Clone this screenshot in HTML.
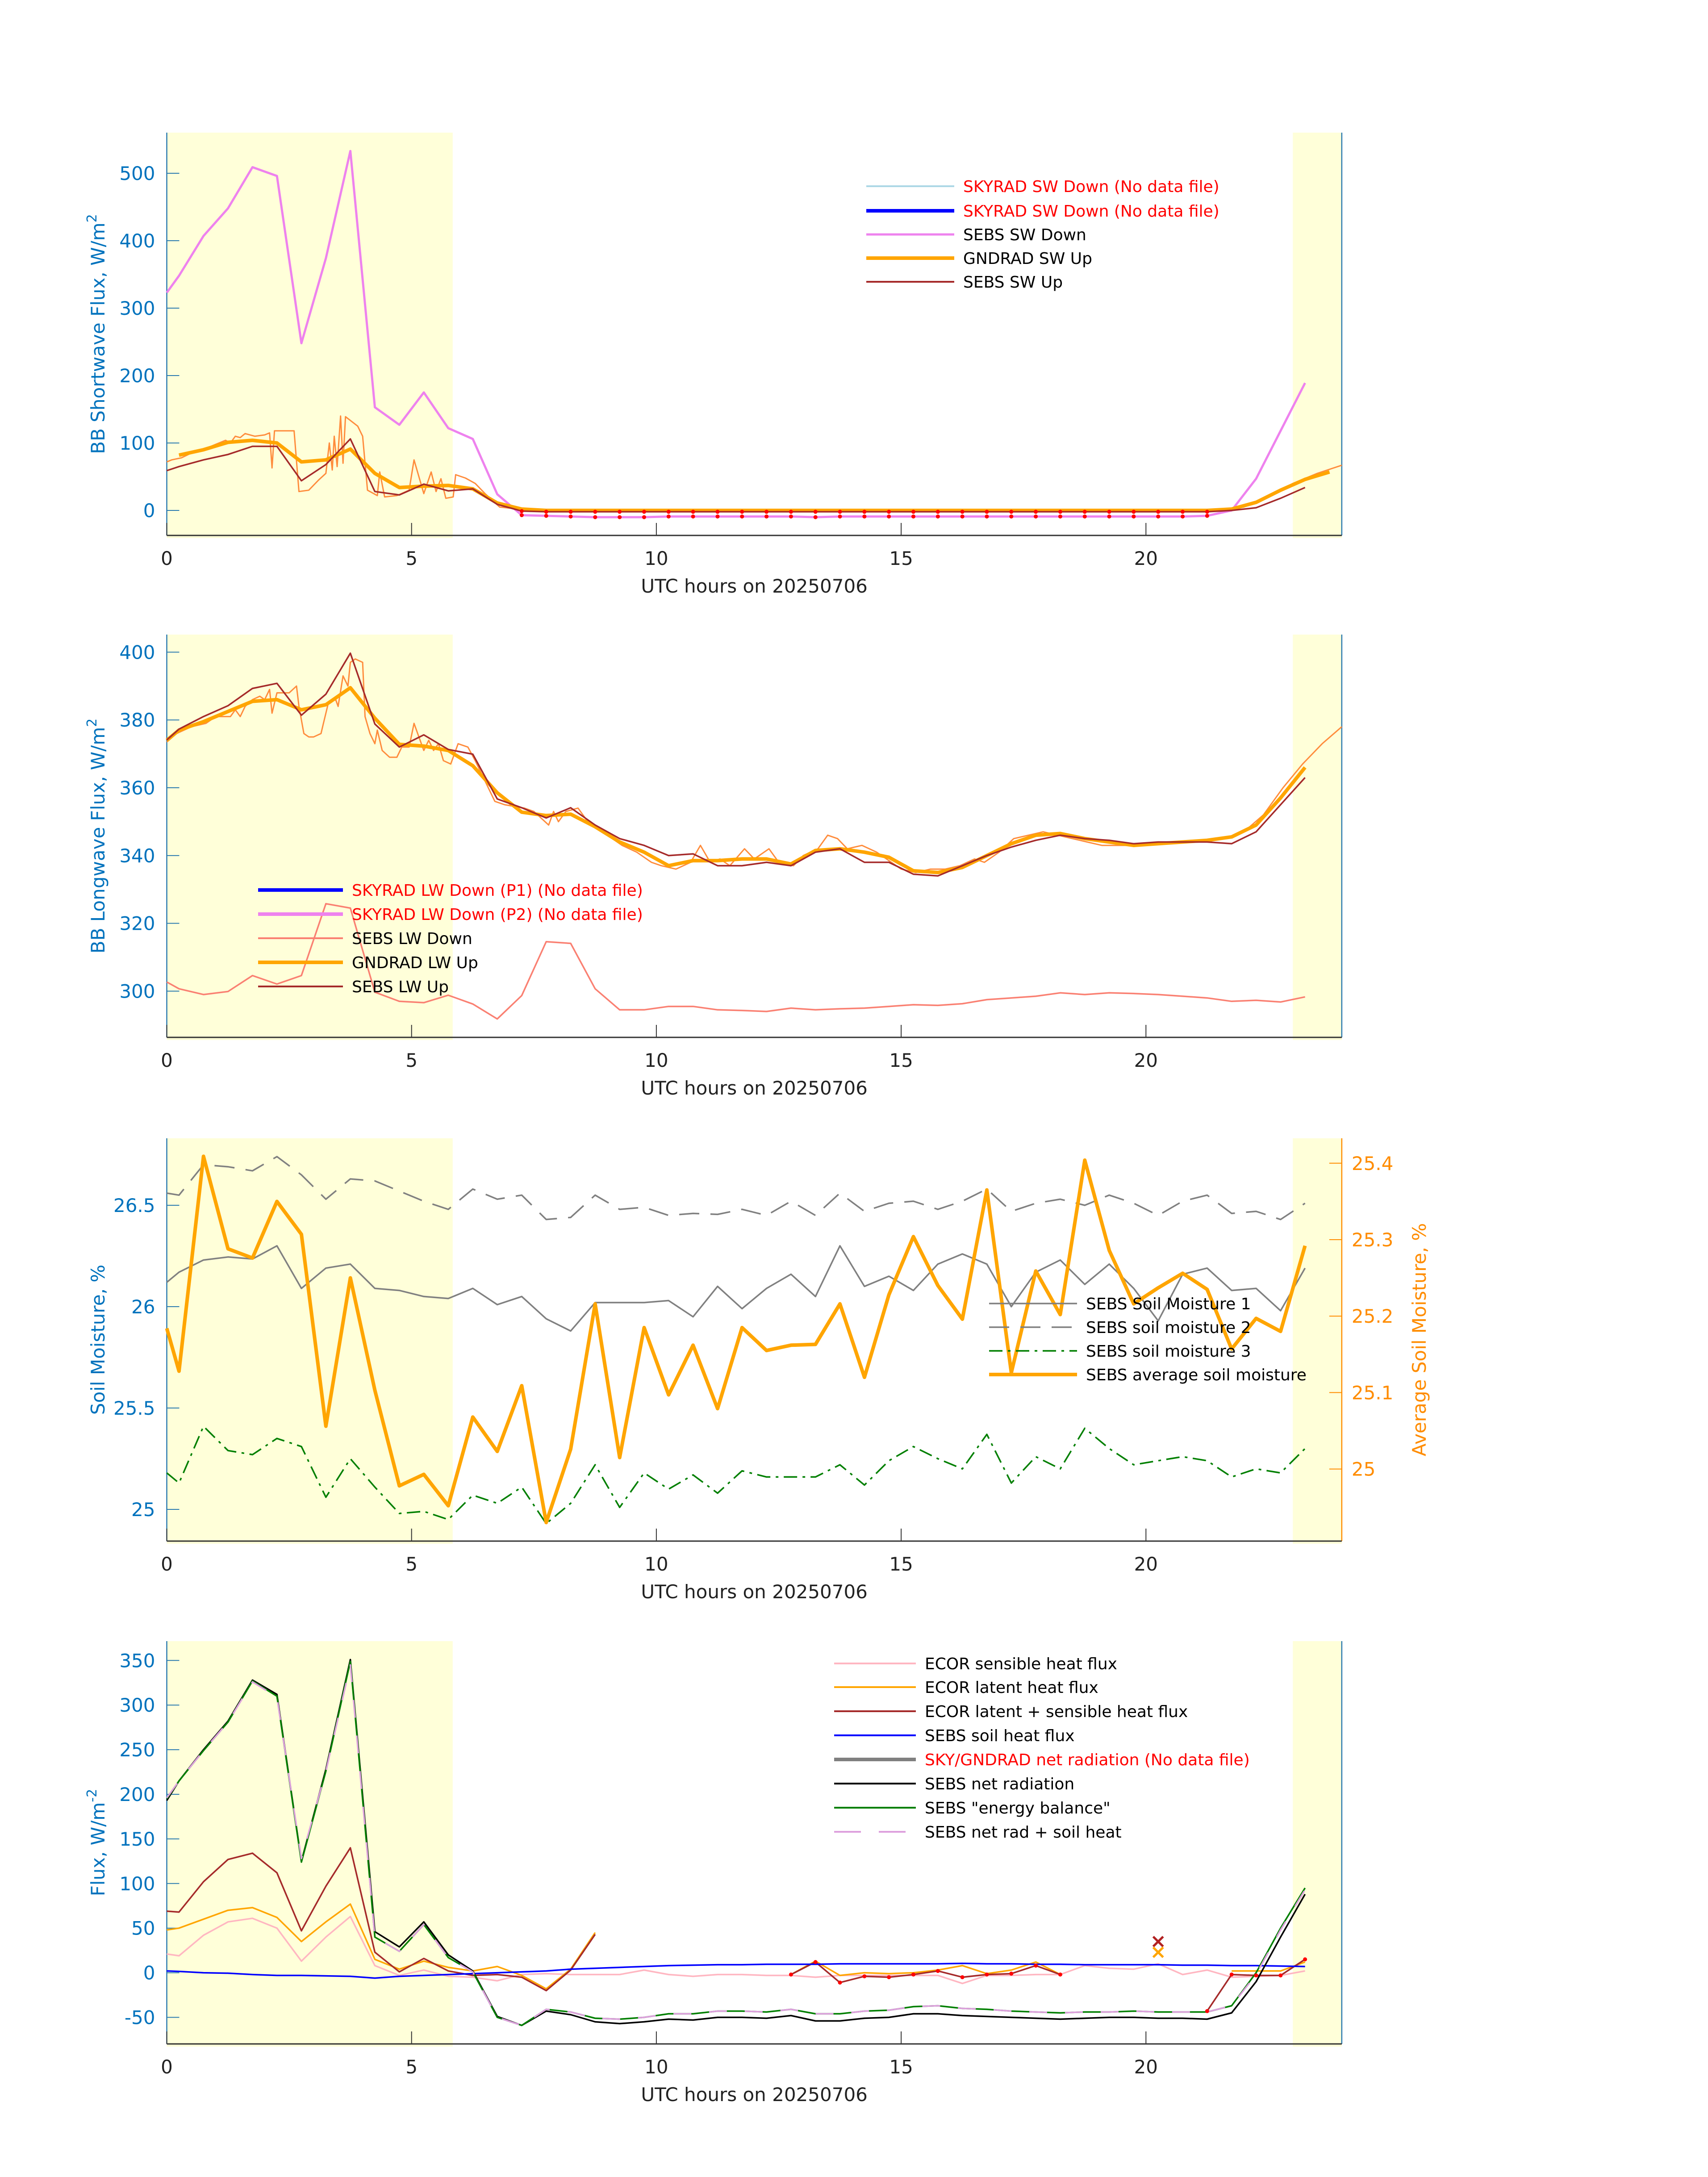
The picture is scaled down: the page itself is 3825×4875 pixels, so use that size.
<!DOCTYPE html>
<html><head><meta charset="utf-8"><style>
html,body{margin:0;padding:0;background:#fff;}
svg{display:block;font-family:"DejaVu Sans","Liberation Sans",sans-serif;}
</style></head><body>
<svg id="chart" xmlns="http://www.w3.org/2000/svg" width="3825" height="4875" viewBox="0 0 3825 4875"></svg>
<script>
// ---------- data ----------
const tHalf = [0,0.25,0.75,1.25,1.75,2.25,2.75,3.25,3.75,4.25,4.75,5.25,5.75,6.25,6.75,7.25,7.75,8.25,8.75,9.25,9.75,10.25,10.75,11.25,11.75,12.25,12.75,13.25,13.75,14.25,14.75,15.25,15.75,16.25,16.75,17.25,17.75,18.25,18.75,19.25,19.75,20.25,20.75,21.25,21.75,22.25,22.75,23.25];
const xTicks = [0,5,10,15,20];
const xTickLabels = ["0","5","10","15","20"];
const shadeSpans = [[0,5.84],[23.0,24]];

// Panel 1
const swDown = [323,348,407,448,509,496,248,374,533,153,127,175,122,106,24,-7,-8,-9,-10,-10,-10,-9,-9,-9,-9,-9,-9,-10,-9,-9,-9,-9,-9,-9,-9,-9,-9,-9,-9,-9,-9,-9,-9,-8,0,47,118,189];
const swUpSebs = [59,65,75,83,95,95,44,68,106,28,23,39,29,32,9,-1,-2,-2,-2,-2,-2,-2,-2,-2,-2,-2,-2,-2,-2,-2,-2,-2,-2,-2,-2,-2,-2,-2,-2,-2,-2,-2,-2,-2,0,4,18,34];
const tGnd = [0.25,0.75,1.25,1.75,2.25,2.75,3.25,3.75,4.25,4.75,5.25,5.75,6.25,6.75,7.25,7.75,10,15,20,21.25,21.75,22.25,22.75,23.25,23.75];
const swUpGnd = [82,90,101,104,100,72,75,91,55,34,36,37,32,11,2,0,0,0,0,0,2,12,30,46,57];
const tSwFine = [0,0.1,0.3,0.5,0.8,1.0,1.2,1.3,1.4,1.5,1.6,1.8,2.0,2.1,2.15,2.2,2.3,2.6,2.7,2.9,3.1,3.25,3.32,3.38,3.42,3.48,3.55,3.6,3.65,3.9,4.0,4.1,4.3,4.35,4.45,4.7,4.95,5.05,5.25,5.4,5.5,5.6,5.7,5.85,5.9,6.1,6.3,6.5,6.8,7.2,7.5,21.5,22,22.5,23,23.5,24];
const swUpFine = [72,75,78,85,92,98,104,100,110,108,114,110,112,115,63,118,118,118,28,30,45,55,100,60,110,65,140,70,139,125,110,30,22,57,20,22,30,75,25,57,28,47,18,20,53,48,40,25,5,2,0,0,5,20,40,55,67];

// Panel 2
const lwUpSebs = [374.1,377.3,381,384.2,389.3,390.8,381.4,387.6,399.7,378.8,372,375.6,371.3,369.9,356.7,354.1,351.1,354.1,349,345,343,340,340.5,337,337,338,337,341,342,338,338,334.5,334,337,340,342.5,344.5,346,345,344.5,343.5,344,344,344,343.5,347,355,363];
const lwUpGnd = [374,377,379.5,382.5,385.5,386,383,384.5,389.5,380.5,372.8,372.3,371,366.5,358.5,352.8,351.8,352.2,348.5,344,341,337,338.5,338.5,339,339,337.5,341.5,342,341,339.5,335.5,335,336.5,340,343.5,346,346.5,345,344,343,343.5,344,344.5,345.5,349,357,366];
const lwDownSebs = [302.7,300.7,299,299.9,304.6,302.1,304.6,325.8,324.5,299.7,297,296.6,298.8,296.2,291.8,298.7,314.6,314.1,300.7,294.5,294.5,295.5,295.5,294.5,294.3,294,295,294.5,294.8,295,295.5,296,295.8,296.3,297.5,298,298.5,299.5,299,299.5,299.3,299,298.5,298,297,297.3,296.8,298.3];
const tLwFine = [0,0.2,0.5,0.8,1.0,1.3,1.4,1.5,1.6,1.75,1.9,2.0,2.1,2.15,2.25,2.35,2.5,2.65,2.7,2.8,2.9,3.0,3.15,3.2,3.3,3.45,3.5,3.6,3.7,3.75,3.85,4.0,4.05,4.15,4.25,4.3,4.4,4.55,4.7,4.8,4.95,5.05,5.15,5.25,5.35,5.45,5.55,5.65,5.8,5.95,6.15,6.3,6.5,6.7,6.9,7.1,7.3,7.5,7.8,7.9,8.0,8.15,8.4,8.6,9.0,9.3,9.6,9.9,10.1,10.4,10.7,10.9,11.1,11.3,11.5,11.8,12.0,12.3,12.5,12.8,13.0,13.3,13.5,13.7,13.9,14.2,14.5,14.8,15.0,15.3,15.6,15.9,16.2,16.5,16.7,17.0,17.3,17.6,17.9,18.2,18.5,18.8,19.1,19.4,19.7,20.0,20.4,20.8,21.2,21.6,22.0,22.4,22.8,23.2,23.6,24];
const lwFine = [373.5,376,378,379,381,381,383,381,384,386,387,386,389,382,388,388,388,390,384,376,375,375,376,379,385,386,384,393,390,397,398,397,381,376,373,377,371,369,369,372,372,379,375,371,374,371,373,368,367,373,372,368,362,356,355,354.5,354,353,349,353,350,353,354,350,346,343,341,338,337,336,338,343,338,339,337,342,339,342,338,337,340,342,346,345,342,343,341,338,336,335,336,336,337,339,338,341,345,346,347,346,345,344,343,343,343,343.5,344,344,344,345,347,352,360,367,373,378];

// Panel 3
const sm1 = [26.12,26.17,26.23,26.245,26.235,26.30,26.09,26.19,26.21,26.09,26.08,26.05,26.04,26.09,26.01,26.05,25.94,25.88,26.02,26.02,26.02,26.03,25.95,26.10,25.99,26.09,26.16,26.05,26.30,26.10,26.15,26.08,26.21,26.26,26.21,26.00,26.17,26.23,26.11,26.21,26.09,25.93,26.16,26.19,26.08,26.09,25.98,26.19];
const sm2 = [26.56,26.55,26.70,26.69,26.67,26.74,26.65,26.53,26.63,26.62,26.57,26.52,26.48,26.58,26.53,26.55,26.43,26.44,26.55,26.48,26.49,26.45,26.46,26.455,26.48,26.45,26.52,26.45,26.56,26.47,26.51,26.52,26.48,26.52,26.58,26.47,26.51,26.53,26.50,26.55,26.51,26.45,26.52,26.55,26.46,26.47,26.43,26.51];
const sm3 = [25.18,25.13,25.41,25.29,25.27,25.35,25.31,25.06,25.25,25.11,24.98,24.99,24.95,25.07,25.03,25.11,24.93,25.03,25.22,25.01,25.18,25.10,25.17,25.08,25.19,25.16,25.16,25.16,25.22,25.12,25.24,25.31,25.25,25.20,25.37,25.13,25.26,25.20,25.40,25.30,25.22,25.24,25.26,25.24,25.16,25.20,25.18,25.30];
const smAvg = [25.184,25.128,25.409,25.288,25.276,25.35,25.307,25.056,25.25,25.103,24.978,24.993,24.952,25.068,25.023,25.109,24.93,25.026,25.216,25.015,25.185,25.097,25.162,25.079,25.185,25.155,25.162,25.163,25.216,25.12,25.228,25.304,25.24,25.196,25.365,25.126,25.259,25.202,25.404,25.286,25.216,25.237,25.256,25.235,25.157,25.197,25.18,25.292];

// Panel 4
const netRad = [193,215,250,282,328,312,125,228,351,46,29,57,20,2,-49,-59,-43,-47,-55,-57,-55,-52,-53,-50,-50,-51,-48,-54,-54,-51,-50,-46,-46,-48,-49,-50,-51,-52,-51,-50,-50,-51,-51,-52,-45,-10,40,88];
const energyBal = [195,215,249,281,327,310,124,226,349,40,24,54,17,1,-50,-59,-41,-44,-51,-52,-50,-46,-46,-43,-43,-44,-41,-46,-46,-43,-42,-38,-37,-40,-41,-43,-44,-45,-44,-44,-43,-44,-44,-44,-37,0,50,95];
const netPlusSoil = [196,215,249,281,326,309,128,226,345,40,24,54,17,1,-50,-59,-41,-44,-51,-52,-50,-46,-46,-43,-43,-44,-41,-46,-46,-43,-42,-38,-37,-40,-41,-43,-44,-45,-44,-44,-43,-44,-44,-44,-37,-2,48,93];
const soilHeat = [2,1.5,0,-0.5,-2,-3,-3,-3.5,-4,-6,-4,-3,-2,-1,0,1,2,4,5,6,7,8,8.5,9,9,9.5,9.5,9.5,10,10,10,10,10,10.5,10,10,9.5,9.5,9,9,9,9,8.5,8.5,8,8,7.5,7];
const sensible = [21,19,42,57,61,50,13,40,63,8,-3,3,-4,-5,-9,-2,-1,-2,-2,-2,3,-2,-4,-2,-2,-3,-3,-5,-3,-3,-3,-3,-3,-12,-3,-3,-2,-2,8,5,4,10,-2,3,-5,-4,-3,2];
const latent = [48,50,60,70,73,62,35,57,77,15,4,13,6,2,7,-3,-18,4,45,null,null,null,null,null,null,null,-2,13,-3,0,-1,0,3,8,-1,3,12,-2,null,null,null,null,null,null,2,2,2,12];
const latSens = [69,68,102,127,134,112,47,97,140,23,1,16,2,-3,-2,-5,-20,3,43,null,null,null,null,null,null,null,-2,12,-11,-4,-5,-2,2,-5,-2,-1,8,-2,null,null,null,null,null,-43,-2,-3,-3,15];

// ---------- drawing helpers ----------
const NS = "http://www.w3.org/2000/svg";
const svg = document.getElementById("chart");
const X0 = 373.5, PXH = 109.64, X1 = X0 + 24*PXH;
const xs = h => X0 + h*PXH;
const PANEL_H = 902;
const tops = [297, 1421, 2549, 3675];
const ys1 = v => 1143 - v*1.51;
const ys2 = v => 1460.4 + (400 - v)*7.591;
const ys3 = v => 2699 + (26.5 - v)*454;
const ys3r = v => 2604.8 + (25.4 - v)*1712;
const ys4 = v => 4417.6 - v*1.998;
const FONT = 42;

function el(tag, attrs, parent) {
  const e = document.createElementNS(NS, tag);
  for (const k in attrs) e.setAttribute(k, attrs[k]);
  (parent || svg).appendChild(e);
  return e;
}
function pathD(tArr, vArr, ys) {
  let d = "", pen = false;
  for (let i = 0; i < tArr.length; i++) {
    const v = vArr[i];
    if (v === null || v === undefined) { pen = false; continue; }
    d += (pen ? "L" : "M") + xs(tArr[i]).toFixed(1) + "," + ys(v).toFixed(1);
    pen = true;
  }
  return d;
}
function series(tArr, vArr, ys, color, width, name, dash) {
  const p = el("path", {d: pathD(tArr, vArr, ys), fill: "none", stroke: color, "stroke-width": width, "stroke-linejoin": "round"});
  if (dash) p.setAttribute("stroke-dasharray", dash);
  
  
  return p;
}
function dots(tArr, vArr, ys, from, to, name) {
  const g = el("g", {fill: "#ff0000"});
  
  
  for (let i = 0; i < tArr.length; i++) {
    if (tArr[i] < from || tArr[i] > to || vArr[i] === null) continue;
    el("circle", {cx: xs(tArr[i]), cy: ys(vArr[i]), r: 4.5}, g);
  }
}
function text(x, y, str, opts, name) {
  const t = el("text", Object.assign({x: x, y: y, "font-size": FONT, fill: "#222"}, opts || {}));
  t.textContent = str;
  
  
  return t;
}
function panelFrame(idx, yTicks, yLabels, ys, yTitle, titleSup) {
  const top = tops[idx], bot = top + PANEL_H;
  const g = el("g", {});
  
  
  for (const s of shadeSpans) {
    const r = el("rect", {x: xs(s[0]), y: top, width: xs(s[1]) - xs(s[0]), height: PANEL_H + 6, fill: "#ffffd9"}, g);
    
    
  }
  const la = el("line", {x1: X0, y1: top, x2: X0, y2: bot, stroke: "#2a7ab0", "stroke-width": 2.5}, g);
  
  
  const ra = el("line", {x1: X1, y1: top, x2: X1, y2: bot, stroke: idx === 2 ? "#ff8c00" : "#2a7ab0", "stroke-width": 2.5}, g);
  
  
  const ba = el("line", {x1: X0, y1: bot, x2: X1, y2: bot, stroke: "#333", "stroke-width": 3}, g);
  
  
  for (let i = 0; i < xTicks.length; i++) {
    const x = xs(xTicks[i]);
    const tk = el("line", {x1: x, y1: bot, x2: x, y2: bot - 28, stroke: "#333", "stroke-width": 2}, g);
    
    
    text(x, bot + 66, xTickLabels[i], {"text-anchor": "middle"}, 'x-tick-label');
  }
  text((X0 + X1)/2, bot + 128, "UTC hours on 20250706", {"text-anchor": "middle"}, 'x-axis-title');
  for (let i = 0; i < yTicks.length; i++) {
    const y = ys(yTicks[i]);
    const tk = el("line", {x1: X0, y1: y, x2: X0 + 28, y2: y, stroke: "#2a7ab0", "stroke-width": 2}, g);
    
    
    text(X0 - 26, y + 15, yLabels[i], {"text-anchor": "end", fill: "#0072bd"}, 'y-tick-label');
  }
  const cy = top + PANEL_H/2;
  const t = text(0, 0, yTitle, {"text-anchor": "middle", fill: "#0072bd", transform: "translate(234," + cy + ") rotate(-90)"}, 'y-axis-title');
  if (titleSup) {
    const ts = el("tspan", {dy: -18, "font-size": 30}, t);
    ts.textContent = titleSup;
  }
}
function legend(x, rows, name) {
  const g = el("g", {});
  
  
  for (const r of rows) {
    const ln = el("line", {x1: x, y1: r.y, x2: x + r.len, y2: r.y, stroke: r.color, "stroke-width": r.w}, g);
    if (r.dash) ln.setAttribute("stroke-dasharray", r.dash);
    
    
    const t = el("text", {x: x + r.len + 20, y: r.y + 13, "font-size": 36, fill: r.red ? "#ff0000" : "#000"}, g);
    t.textContent = r.label;
    
    
  }
}

// ---------- Panel 1 ----------
panelFrame(0, [0,100,200,300,400,500], ["0","100","200","300","400","500"], ys1, "BB Shortwave Flux, W/m", "2");
series(tSwFine, swUpFine, ys1, "#ff8c3c", 3, "gndrad-sw-up-1min");
series(tHalf, swDown, ys1, "#ee82ee", 5, "sebs-sw-down-line");
series(tGnd, swUpGnd, ys1, "#ffa500", 8, "gndrad-sw-up-line");
series(tHalf, swUpSebs, ys1, "#a52a2a", 3.5, "sebs-sw-up-line");
dots(tHalf, swDown, ys1, 7, 21.3, "sw-down-qc-dots");
dots(tHalf, swUpSebs, ys1, 7, 21.3, "sw-up-qc-dots");
legend(1940, [
  {y: 417, color: "#add8e6", w: 4, len: 197, label: "SKYRAD SW Down (No data file)", red: true},
  {y: 472, color: "#0000ff", w: 8, len: 197, label: "SKYRAD SW Down (No data file)", red: true},
  {y: 525, color: "#ee82ee", w: 5, len: 197, label: "SEBS SW Down"},
  {y: 578, color: "#ffa500", w: 8, len: 197, label: "GNDRAD SW Up"},
  {y: 631, color: "#a52a2a", w: 4, len: 197, label: "SEBS SW Up"}
], "legend-panel-1");

// ---------- Panel 2 ----------
panelFrame(1, [300,320,340,360,380,400], ["300","320","340","360","380","400"], ys2, "BB Longwave Flux, W/m", "2");
series(tHalf, lwDownSebs, ys2, "#fa8072", 3.5, "sebs-lw-down-line");
series(tLwFine, lwFine, ys2, "#ff8c3c", 3, "gndrad-lw-up-1min");
series(tHalf, lwUpGnd, ys2, "#ffa500", 8, "gndrad-lw-up-line");
series(tHalf, lwUpSebs, ys2, "#a52a2a", 3.5, "sebs-lw-up-line");
legend(578, [
  {y: 1993, color: "#0000ff", w: 8, len: 190, label: "SKYRAD LW Down (P1) (No data file)", red: true},
  {y: 2047, color: "#ee82ee", w: 8, len: 190, label: "SKYRAD LW Down (P2) (No data file)", red: true},
  {y: 2101, color: "#fa8072", w: 4, len: 190, label: "SEBS LW Down"},
  {y: 2155, color: "#ffa500", w: 8, len: 190, label: "GNDRAD LW Up"},
  {y: 2209, color: "#a52a2a", w: 4, len: 190, label: "SEBS LW Up"}
], "legend-panel-2");

// ---------- Panel 3 ----------
panelFrame(2, [25,25.5,26,26.5], ["25","25.5","26","26.5"], ys3, "Soil Moisture, %");
const rTicks = [25,25.1,25.2,25.3,25.4];
const rLabels = ["25","25.1","25.2","25.3","25.4"];
for (let i = 0; i < rTicks.length; i++) {
  const y = ys3r(rTicks[i]);
  const tk = el("line", {x1: X1, y1: y, x2: X1 - 28, y2: y, stroke: "#ff8c00", "stroke-width": 2});
  
  
  text(X1 + 22, y + 15, rLabels[i], {fill: "#ff8c00"}, 'right-y-tick-label');
}
text(0, 0, "Average Soil Moisture, %", {"text-anchor": "middle", fill: "#ff8c00", transform: "translate(3193," + (tops[2] + PANEL_H/2) + ") rotate(-90)"}, 'right-y-axis-title');
series(tHalf, sm1, ys3, "#808080", 3.5, "soil-moisture-1-line");
series(tHalf, sm2, ys3, "#808080", 3.5, "soil-moisture-2-line", "45,25");
series(tHalf, sm3, ys3, "#007f00", 3.5, "soil-moisture-3-line", "30,12,6,12");
series(tHalf, smAvg, ys3r, "#ffa500", 8, "average-soil-moisture-line");
legend(2215, [
  {y: 2919, color: "#808080", w: 3.5, len: 197, label: "SEBS Soil Moisture 1"},
  {y: 2972, color: "#808080", w: 3.5, len: 197, label: "SEBS soil moisture 2", dash: "45,25"},
  {y: 3025, color: "#007f00", w: 3.5, len: 197, label: "SEBS soil moisture 3", dash: "30,12,6,12"},
  {y: 3078, color: "#ffa500", w: 8, len: 197, label: "SEBS average soil moisture"}
], "legend-panel-3");

// ---------- Panel 4 ----------
panelFrame(3, [-50,0,50,100,150,200,250,300,350], ["-50","0","50","100","150","200","250","300","350"], ys4, "Flux, W/m", "-2");
series(tHalf, sensible, ys4, "#ffb6c1", 3.5, "ecor-sensible-line");
series(tHalf, latent, ys4, "#ffa500", 3.5, "ecor-latent-line");
series(tHalf, latSens, ys4, "#a52a2a", 3.5, "ecor-latent-plus-sensible-line");
series(tHalf, soilHeat, ys4, "#0000ff", 3.5, "sebs-soil-heat-line");
series(tHalf, netRad, ys4, "#000000", 3.5, "sebs-net-radiation-line");
series(tHalf, energyBal, ys4, "#007f00", 3.5, "sebs-energy-balance-line");
series(tHalf, netPlusSoil, ys4, "#dda0dd", 3.5, "sebs-net-rad-plus-soil-line", "40,40");
dots(tHalf, latSens, ys4, 12.5, 23.5, "ecor-qc-dots");
const cx = xs(20.25);
text(cx, ys4(35) + 14, "×", {"text-anchor": "middle", fill: "#b22222", "font-size": 44, "font-weight": "bold"}, 'ecor-sum-marker');
text(cx, ys4(23) + 14, "×", {"text-anchor": "middle", fill: "#ffa500", "font-size": 44, "font-weight": "bold"}, 'ecor-latent-marker');
legend(1868, [
  {y: 3725, color: "#ffb6c1", w: 4, len: 183, label: "ECOR sensible heat flux"},
  {y: 3778, color: "#ffa500", w: 4, len: 183, label: "ECOR latent heat flux"},
  {y: 3832, color: "#a52a2a", w: 4, len: 183, label: "ECOR latent + sensible heat flux"},
  {y: 3886, color: "#0000ff", w: 4, len: 183, label: "SEBS soil heat flux"},
  {y: 3940, color: "#808080", w: 8, len: 183, label: "SKY/GNDRAD net radiation (No data file)", red: true},
  {y: 3994, color: "#000000", w: 4, len: 183, label: "SEBS net radiation"},
  {y: 4048, color: "#007f00", w: 4, len: 183, label: "SEBS \"energy balance\""},
  {y: 4102, color: "#dda0dd", w: 4, len: 183, label: "SEBS net rad + soil heat", dash: "60,40"}
], "legend-panel-4");
</script>
</body></html>
